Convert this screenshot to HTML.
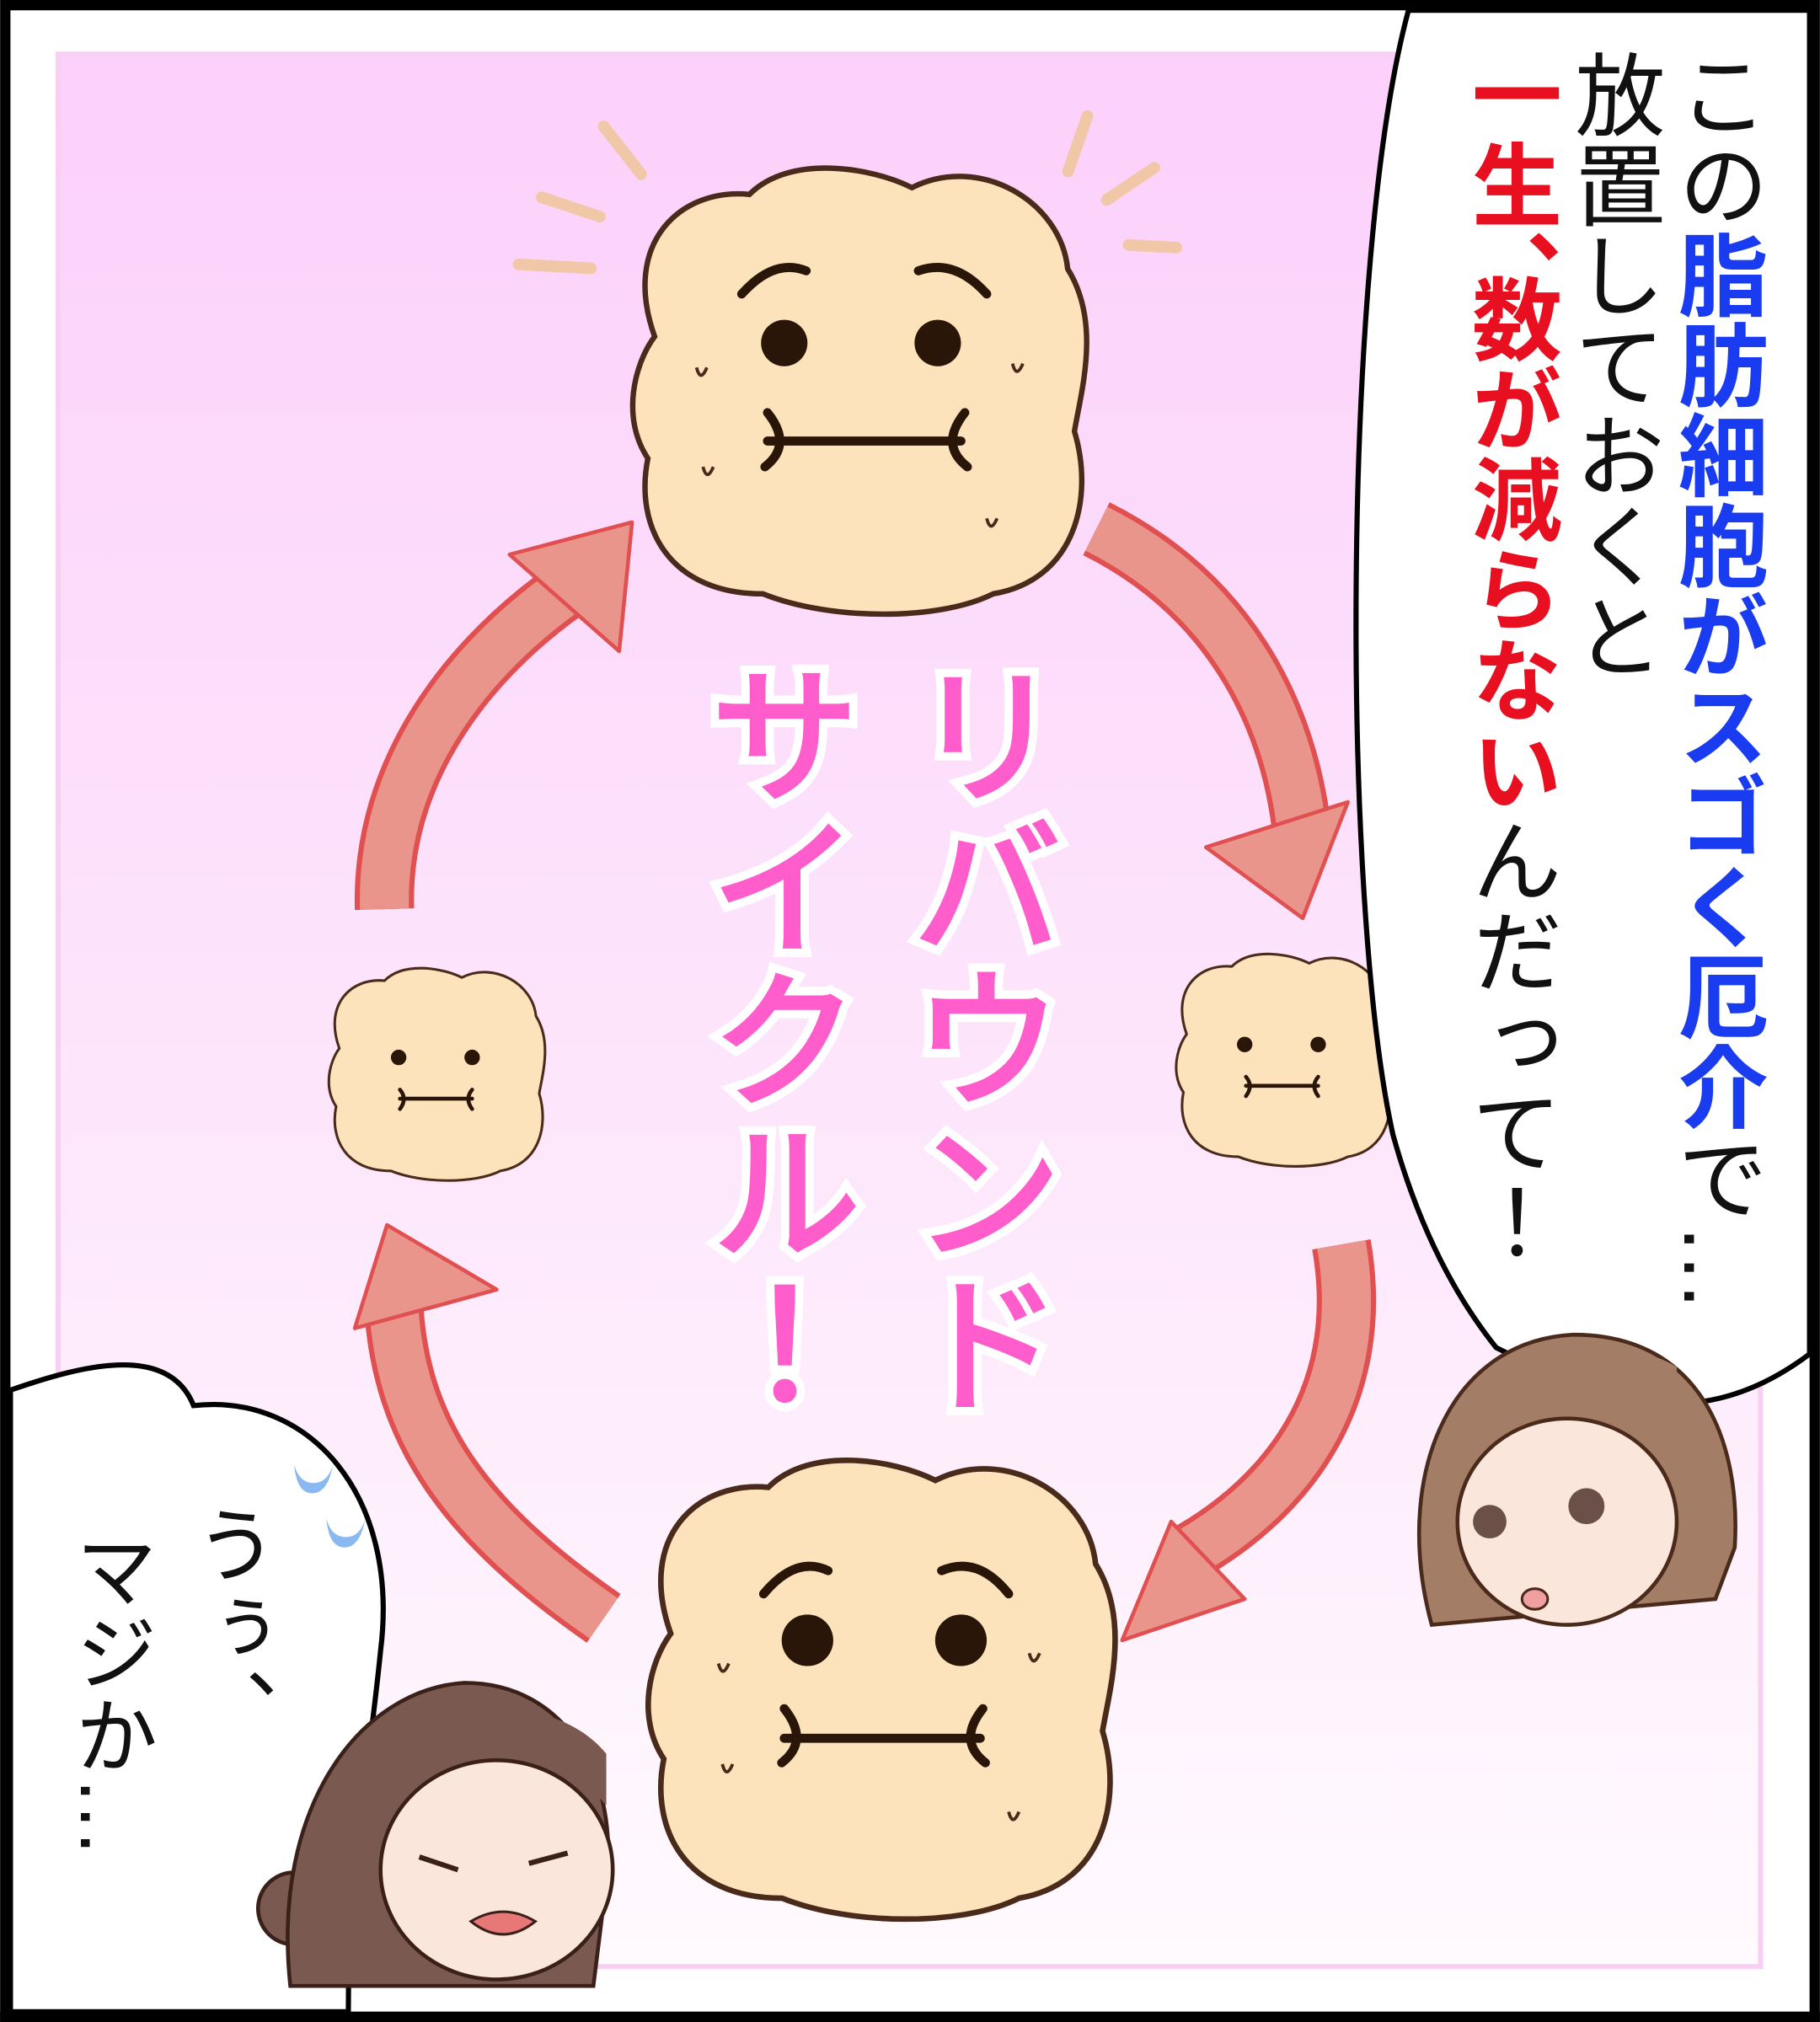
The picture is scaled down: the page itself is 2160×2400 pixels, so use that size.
<!DOCTYPE html>
<html><head><meta charset="utf-8"><style>
html,body{margin:0;padding:0;background:#fff}
svg{display:block}
.v{writing-mode:vertical-rl;font-family:"Liberation Sans","Noto Sans CJK JP",sans-serif}
</style></head><body>
<svg width="2160" height="2400" viewBox="0 0 1411 1568" xmlns="http://www.w3.org/2000/svg">
<defs>
<linearGradient id="bg" x1="0" y1="0" x2="0" y2="1">
<stop offset="0" stop-color="#fcd0fb"/><stop offset="0.55" stop-color="#fde6fb"/><stop offset="1" stop-color="#fffafe"/>
</linearGradient>
<g id="cell">
<path d="M-150,-40 C-175,-110 -130,-150 -80,-145 C-50,-175 10,-165 40,-150 C90,-175 150,-140 155,-90 C180,-50 165,0 160,30 C175,80 160,140 100,150 C60,170 -20,170 -70,150 C-140,150 -165,100 -155,50 C-175,20 -165,-20 -150,-40Z" fill="#fde3bb" stroke="#4a2a1a" stroke-width="4"/>
</g>
</defs>
<rect x="0" y="0" width="1411" height="1568" fill="#000"/>
<rect x="8" y="8" width="1395" height="1552" fill="#fff"/>
<rect x="45" y="42" width="1320" height="1483" fill="url(#bg)" stroke="#f8d0f4" stroke-width="4"/>

<g stroke="#f0c8a8" stroke-width="9" stroke-linecap="round" fill="none">
<line x1="468" y1="98" x2="497" y2="135"/><line x1="420" y1="153" x2="465" y2="168"/><line x1="402" y1="205" x2="458" y2="208"/>
<line x1="843" y1="90" x2="828" y2="133"/><line x1="895" y1="130" x2="858" y2="155"/><line x1="875" y1="190" x2="912" y2="192"/>
</g>

<g fill="none" stroke-linecap="butt">
<path d="M850,410 C950,460 1000,550 1010,650" stroke="#e05050" stroke-width="46"/>
<path d="M850,410 C950,460 1000,550 1010,650" stroke="#ea958c" stroke-width="38"/>
<path d="M1040,965 C1060,1080 1000,1160 920,1205" stroke="#e05050" stroke-width="46"/>
<path d="M1040,965 C1060,1080 1000,1160 920,1205" stroke="#ea958c" stroke-width="38"/>
<path d="M468,1255 C360,1180 310,1110 305,1010" stroke="#e05050" stroke-width="46"/>
<path d="M468,1255 C360,1180 310,1110 305,1010" stroke="#ea958c" stroke-width="38"/>
<path d="M298,705 C295,600 360,510 450,450" stroke="#e05050" stroke-width="46"/>
<path d="M298,705 C295,600 360,510 450,450" stroke="#ea958c" stroke-width="38"/>
</g>
<g fill="#ea958c" stroke="#e05050" stroke-width="3" stroke-linejoin="round">
<polygon points="935,657 1045,622 1010,712"/>
<polygon points="908,1180 965,1240 870,1272"/>
<polygon points="275,1030 385,1000 300,950"/>
<polygon points="395,430 480,505 490,405"/>
</g>

<g transform="translate(665,303) scale(1.05)"><use href="#cell"/></g>
<g transform="translate(682,1310) scale(1.08)"><use href="#cell"/></g>
<g transform="translate(338,833) scale(0.5)"><use href="#cell"/></g>
<g transform="translate(995,822) scale(0.5)"><use href="#cell"/></g>
<g fill="#2a1608">
<circle cx="608" cy="266" r="18"/><circle cx="727" cy="266" r="18"/>
<circle cx="626" cy="1272" r="20"/><circle cx="745" cy="1272" r="20"/>
<circle cx="309" cy="820" r="6"/><circle cx="366" cy="820" r="6"/>
<circle cx="965" cy="810" r="6"/><circle cx="1022" cy="810" r="6"/>
</g>
<g fill="none" stroke="#2a1608" stroke-width="7" stroke-linecap="round">
<path d="M575,228 Q600,200 625,210"/><path d="M712,210 Q740,200 765,228"/>
<path d="M595,320 Q615,345 593,362 M595,342 H745 M748,320 Q728,345 750,362"/>
<path d="M592,1236 Q617,1206 642,1218"/><path d="M730,1218 Q758,1206 782,1236"/>
<path d="M608,1325 Q628,1350 606,1367 M608,1348 H760 M762,1325 Q742,1350 764,1367"/>
<path stroke-width="3" d="M310,845 Q316,852 310,860 M310,852 H366 M366,845 Q360,852 366,860"/>
<path stroke-width="3" d="M966,835 Q972,842 966,850 M966,842 H1022 M1022,835 Q1016,842 1022,850"/>
</g>
<g fill="none" stroke="#4a2a1a" stroke-width="2.5">
<path d="M540,285 q3,12 8,0"/><path d="M545,362 q3,12 8,0"/><path d="M785,282 q3,12 8,0"/><path d="M765,402 q3,12 8,0"/>
<path d="M557,1290 q3,12 8,0"/><path d="M560,1368 q3,12 8,0"/><path d="M798,1282 q3,12 8,0"/><path d="M782,1405 q3,12 8,0"/>
</g>

<g font-family="Liberation Sans,Noto Sans CJK JP,sans-serif" font-size="118" font-weight="normal" fill="#ff5ccc" stroke="#fff" stroke-width="16" paint-order="stroke" style="writing-mode:vertical-rl">
<text x="755" y="510">リバウンド</text>
<text x="598" y="510">サイクル！</text>
</g>
<g font-family="Liberation Sans,Noto Sans CJK JP,sans-serif" font-size="118" fill="none" stroke="#ff5ccc" stroke-width="3" style="writing-mode:vertical-rl">
<text x="755" y="510">リバウンド</text>
<text x="598" y="510">サイクル！</text>
</g>

<path d="M1092,8 C1040,200 1040,700 1080,880 C1105,970 1140,1020 1160,1045 C1230,1080 1310,1120 1403,1050 L1403,8Z" fill="#fff" stroke="#000" stroke-width="4"/>
<g font-size="70">
<text class="v" x="1330" y="38" fill="#111">この<tspan fill="#1a3cf0" font-weight="bold">脂肪細胞がスゴく厄介</tspan>で…</text>
<text class="v" x="1250" y="38" fill="#111">放置しておくと</text>
<text class="v" x="1170" y="38" fill="#e81020" font-weight="bold">一生、</text>
<text class="v" x="1170" y="212" fill="#e81020" font-weight="bold">数が減らない<tspan fill="#111" font-weight="normal">んだって！</tspan></text>
</g>

<path d="M1110,1260 C1080,1150 1120,1040 1220,1035 C1320,1035 1350,1120 1345,1200 L1330,1240 Z" fill="#a37d66" stroke="#4a2a1a" stroke-width="3"/>
<ellipse cx="1215" cy="1180" rx="85" ry="80" fill="#fbe6dc" stroke="#4a2a1a" stroke-width="3"/>
<path d="M1130,1150 C1150,1080 1250,1060 1300,1120 L1300,1060 C1250,1030 1150,1040 1120,1120Z" fill="#a37d66"/>
<circle cx="1155" cy="1180" r="13" fill="#6a5048"/><circle cx="1230" cy="1168" r="14" fill="#6a5048"/>
<ellipse cx="1190" cy="1240" rx="10" ry="8" fill="#f0a0a0" stroke="#4a2a1a" stroke-width="2"/>

<path d="M8,1078 C60,1060 130,1040 150,1090 C240,1080 310,1160 295,1280 C285,1380 270,1450 270,1560 L8,1560Z" fill="#fff" stroke="#000" stroke-width="4"/>
<g fill="#8ab8f0"><path d="M228,1136 q2,22 14,22 q12,0 16,-22 q-4,14 -15,14 q-11,0 -15,-14Z"/><path d="M253,1178 q2,22 14,22 q12,0 16,-22 q-4,14 -15,14 q-11,0 -15,-14Z"/></g>
<g font-size="64" fill="#111">
<text class="v" x="178" y="1165">うぅ、</text>
<text class="v" x="85" y="1185">マジか…</text>
</g>

<circle cx="228" cy="1480" r="28" fill="#7a5a50" stroke="#3a2018" stroke-width="3"/>
<path d="M225,1540 C210,1400 280,1310 360,1305 C440,1305 480,1380 470,1460 L460,1540Z" fill="#7a5a50" stroke="#3a2018" stroke-width="3"/>
<ellipse cx="385" cy="1450" rx="90" ry="85" fill="#fbe6dc" stroke="#3a2018" stroke-width="3"/>
<path d="M290,1420 C300,1350 400,1320 470,1400 L470,1360 C430,1310 320,1310 290,1380Z" fill="#7a5a50"/>
<g stroke="#3a2018" stroke-width="4" fill="none"><path d="M325,1440 l30,10"/><path d="M410,1445 l30,-8"/></g>
<path d="M365,1490 q25,-15 50,0 q-25,20 -50,0Z" fill="#e87878" stroke="#3a2018" stroke-width="2"/>
<rect x="0" y="1560" width="1411" height="8" fill="#000"/>
</svg>
</body></html>
